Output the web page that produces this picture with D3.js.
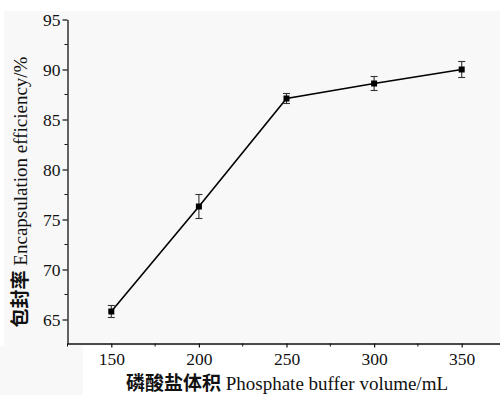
<!DOCTYPE html>
<html>
<head>
<meta charset="utf-8">
<script src="https://cdn.jsdelivr.net/npm/d3@7"></script>
<style>
  html, body { margin: 0; padding: 0; background: #fff; }
  svg { display: block; }
  .tick text { font-family: "Liberation Serif", "DejaVu Serif", serif; font-size: 17.5px; fill: #111; }
  .axis-title { font-family: "Liberation Serif", serif; font-size: 19px; fill: #111; }
  .cn { font-family: "Noto Sans CJK SC", sans-serif; font-weight: 700; }
</style>
</head>
<body>
<div id="chart"></div>
<script>
// data
const volumes = [150, 200, 250, 300, 350];
const efficiency = [65.8, 76.3, 87.1, 88.6, 90.0];
const errors = [0.6, 1.2, 0.5, 0.7, 0.8];
const xTicks = [150, 200, 250, 300, 350];
const yTicks = [65, 70, 75, 80, 85, 90, 95];

const width = 500, height = 395;
const svg = d3.select("#chart").append("svg")
  .attr("width", width)
  .attr("height", height);

// light grey background of the scanned figure
svg.append("rect").attr("x", 4).attr("y", 11).attr("width", width - 4).attr("height", 335).attr("fill", "#f8f8f8");
svg.append("rect").attr("x", 0).attr("y", 346).attr("width", 83).attr("height", 49).attr("fill", "#f8f8f8");

const x = d3.scaleLinear().domain([125, 375]).range([67.5, 505.5]);
const y = d3.scaleLinear().domain([62.6, 95]).range([343.5, 19.5]);

// x axis
const xAxis = svg.append("g")
  .attr("transform", `translate(0,${y(62.6)})`)
  .call(d3.axisBottom(x).tickValues(xTicks).tickSize(4).tickPadding(5).tickSizeOuter(0));
xAxis.append("g").selectAll("line")
  .data(d3.range(125, 376, 50))
  .join("line")
  .attr("x1", d => x(d)).attr("x2", d => x(d))
  .attr("y1", 0).attr("y2", 3)
  .attr("stroke", "#111");

// y axis
const yAxis = svg.append("g")
  .attr("transform", `translate(${x(125)},0)`)
  .call(d3.axisLeft(y).tickValues(yTicks).tickSize(5).tickPadding(2).tickSizeOuter(0));
yAxis.append("g").selectAll("line")
  .data(d3.range(67.5, 95, 5))
  .join("line")
  .attr("y1", d => y(d)).attr("y2", d => y(d))
  .attr("x1", 0).attr("x2", -3)
  .attr("stroke", "#111");

svg.selectAll(".domain").attr("stroke", "#111").attr("stroke-width", 1.3);
svg.selectAll(".tick line").attr("stroke", "#111").attr("stroke-width", 1.2);

// axis titles
const xt = svg.append("text")
  .attr("class", "axis-title")
  .attr("x", 287)
  .attr("y", 390)
  .attr("text-anchor", "middle");
xt.append("tspan").attr("class", "cn").text("磷酸盐体积");
xt.append("tspan").text(" Phosphate buffer volume/mL");

const yt = svg.append("text")
  .attr("class", "axis-title")
  .attr("transform", "translate(27,192) rotate(-90)")
  .attr("text-anchor", "middle");
yt.append("tspan").attr("class", "cn").text("包封率");
yt.append("tspan").text(" Encapsulation efficiency/%");

// series
const points = volumes.map((v, i) => ({ v, e: efficiency[i], err: errors[i] }));

svg.append("path")
  .datum(points)
  .attr("fill", "none")
  .attr("stroke", "#000")
  .attr("stroke-width", 1.6)
  .attr("d", d3.line().x(d => x(d.v)).y(d => y(d.e)));

const eb = svg.append("g").attr("stroke", "#333").attr("stroke-width", 1.1);
eb.selectAll(".bar")
  .data(points)
  .join("line")
  .attr("class", "bar")
  .attr("x1", d => x(d.v)).attr("x2", d => x(d.v))
  .attr("y1", d => y(d.e - d.err)).attr("y2", d => y(d.e + d.err));
eb.selectAll(".cap-top")
  .data(points)
  .join("line")
  .attr("class", "cap-top")
  .attr("x1", d => x(d.v) - 3.5).attr("x2", d => x(d.v) + 3.5)
  .attr("y1", d => y(d.e + d.err)).attr("y2", d => y(d.e + d.err));
eb.selectAll(".cap-bot")
  .data(points)
  .join("line")
  .attr("class", "cap-bot")
  .attr("x1", d => x(d.v) - 3.5).attr("x2", d => x(d.v) + 3.5)
  .attr("y1", d => y(d.e - d.err)).attr("y2", d => y(d.e - d.err));

svg.append("g").selectAll("rect")
  .data(points)
  .join("rect")
  .attr("x", d => x(d.v) - 3)
  .attr("y", d => y(d.e) - 3)
  .attr("width", 6)
  .attr("height", 6)
  .attr("fill", "#000");
</script>
</body>
</html>
